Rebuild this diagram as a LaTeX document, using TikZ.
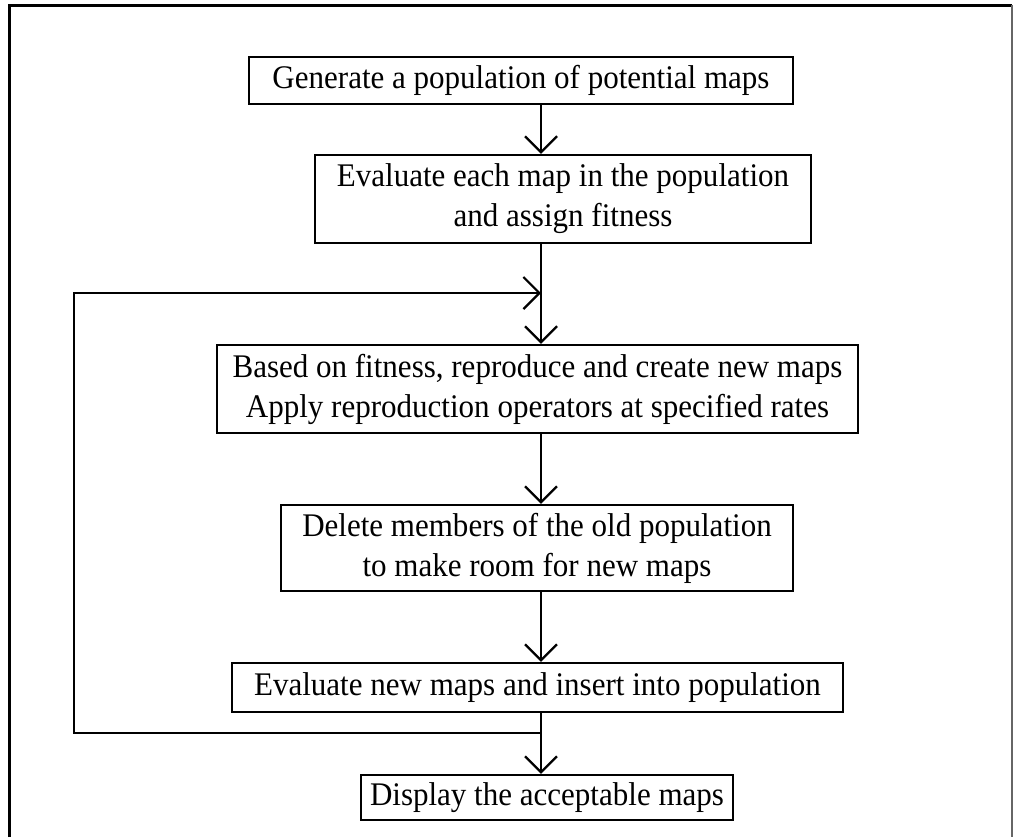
\documentclass[tikz,border=0pt]{standalone}
\usepackage{fontspec}
\setmainfont{Liberation Serif}[FakeStretch=0.94]
\usetikzlibrary{positioning,arrows.meta,calc}

\begin{document}
\begin{tikzpicture}[x=0.5pt,y=-0.5pt,
      stepbox/.style={draw,line width=1.2pt,inner sep=0pt,align=center,
        font=\fontsize{16.5}{20}\selectfont},
      flow/.style={line width=1.1pt,
        -{Straight Barb[length=8pt,width=16pt,line width=1.1pt]}}]
    \useasboundingbox (0,0) rectangle (1016,837);
    % frame, open at the foot
    \draw[line width=1.5pt] (9,837) -- (9,5) -- (1012,5);
    \draw[line width=0.8pt,black!60] (1012,5) -- (1012,837);
    % spine and loop guides
    \coordinate (spine) at (541,0);
    \coordinate (loopx) at (74,0);
    \coordinate (fork) at (541,733);
    \coordinate (reentry) at (541,293);
    % steps
    \node[stepbox,minimum width=272pt,minimum height=23.5pt] (gen) at (521,80.5)
      {Generate a population of potential maps};
    \node[stepbox,minimum width=248pt,minimum height=44pt] (evalpop) at (563,199)
      {Evaluate each map in the population\\and assign fitness};
    \node[stepbox,minimum width=320.5pt,minimum height=44pt] (repro) at (537.5,389)
      {Based on fitness, reproduce and create new maps\\Apply reproduction operators at specified rates};
    \node[stepbox,minimum width=256pt,minimum height=43pt] (delold) at (537,548)
      {Delete members of the old population\\to make room for new maps};
    \node[stepbox,minimum width=305.5pt,minimum height=24.5pt] (evalnew) at (537.5,687.5)
      {Evaluate new maps and insert into population};
    \node[stepbox,minimum width=186pt,minimum height=22.5pt] (display) at (547,797.5)
      {Display the acceptable maps};
    % connectors
    \draw[flow] (gen.south -| spine) -- (evalpop.north -| spine);
    \draw[flow] (evalpop.south -| spine) -- (repro.north -| spine);
    \draw[flow] (repro.south -| spine) -- (delold.north -| spine);
    \draw[flow] (delold.south -| spine) -- (evalnew.north -| spine);
    \draw[flow] (evalnew.south -| spine) -- (display.north -| spine);
    % loop back
    \draw[flow] (fork) -- (fork -| loopx) -- (reentry -| loopx) -- (reentry);
\end{tikzpicture}
\end{document}
